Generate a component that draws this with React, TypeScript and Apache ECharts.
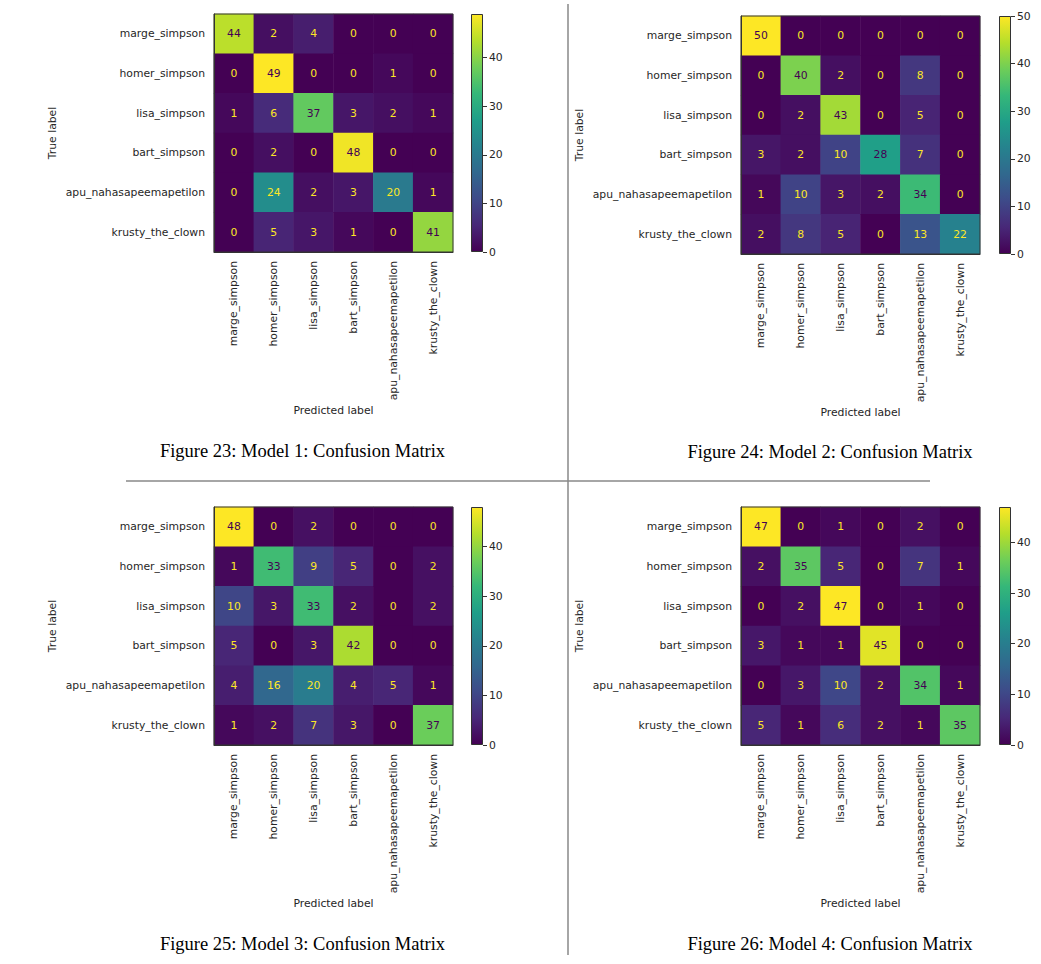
import React, { useEffect, useRef } from "react";
import * as echarts from "echarts";

const classes = [
  "marge_simpson",
  "homer_simpson",
  "lisa_simpson",
  "bart_simpson",
  "apu_nahasapeemapetilon",
  "krusty_the_clown",
];

const cm1 = [
  [44, 2, 4, 0, 0, 0],
  [0, 49, 0, 0, 1, 0],
  [1, 6, 37, 3, 2, 1],
  [0, 2, 0, 48, 0, 0],
  [0, 24, 2, 3, 20, 1],
  [0, 5, 3, 1, 0, 41],
];
const cm2 = [
  [50, 0, 0, 0, 0, 0],
  [0, 40, 2, 0, 8, 0],
  [0, 2, 43, 0, 5, 0],
  [3, 2, 10, 28, 7, 0],
  [1, 10, 3, 2, 34, 0],
  [2, 8, 5, 0, 13, 22],
];
const cm3 = [
  [48, 0, 2, 0, 0, 0],
  [1, 33, 9, 5, 0, 2],
  [10, 3, 33, 2, 0, 2],
  [5, 0, 3, 42, 0, 0],
  [4, 16, 20, 4, 5, 1],
  [1, 2, 7, 3, 0, 37],
];
const cm4 = [
  [47, 0, 1, 0, 2, 0],
  [2, 35, 5, 0, 7, 1],
  [0, 2, 47, 0, 1, 0],
  [3, 1, 1, 45, 0, 0],
  [0, 3, 10, 2, 34, 1],
  [5, 1, 6, 2, 1, 35],
];

const cbTicks1 = [0, 10, 20, 30, 40];
const cbTicks2 = [0, 10, 20, 30, 40, 50];
const cbTicks3 = [0, 10, 20, 30, 40];
const cbTicks4 = [0, 10, 20, 30, 40];

const captions = [
  "Figure 23: Model 1: Confusion Matrix",
  "Figure 24: Model 2: Confusion Matrix",
  "Figure 25: Model 3: Confusion Matrix",
  "Figure 26: Model 4: Confusion Matrix",
];

const viridis = [
  "#440154", "#482878", "#3e4a89", "#31688e", "#26828e",
  "#1f9e89", "#35b779", "#6ece58", "#b5de2b", "#fde725",
];

const panels = [
  { cm: cm1, ticks: cbTicks1, caption: captions[0], left: 214, top: 14, cbLeft: 471, capX: 302.5, capY: 451 },
  { cm: cm2, ticks: cbTicks2, caption: captions[1], left: 741, top: 16, cbLeft: 999, capX: 830, capY: 452 },
  { cm: cm3, ticks: cbTicks3, caption: captions[2], left: 214, top: 507, cbLeft: 471, capX: 302.5, capY: 944 },
  { cm: cm4, ticks: cbTicks4, caption: captions[3], left: 741, top: 507, cbLeft: 999, capX: 830, capY: 944 },
];

const FONT = "DejaVu Sans";
const FS = 10.8;
const TXT = "#262626";
const W = 239;
const H = 238;

export default function App() {
  const ref = useRef<HTMLDivElement>(null);
  useEffect(() => {
    if (!ref.current) return;
    const chart = echarts.init(ref.current, undefined, { renderer: "svg" });
    const grid: any[] = [];
    const xAxis: any[] = [];
    const yAxis: any[] = [];
    const series: any[] = [];
    const visualMap: any[] = [];
    const graphic: any[] = [];

    panels.forEach((p, i) => {
      const maxVal = Math.max(...p.cm.map((r) => Math.max(...r)));
      const g = i * 2;
      grid.push({
        left: p.left, top: p.top, width: W, height: H,
        show: true, borderColor: "#333", borderWidth: 1,
        backgroundColor: "transparent", z: 10,
      });
      grid.push({ left: p.cbLeft, top: p.top, width: 12, height: H });

      xAxis.push({
        type: "category", gridIndex: g, data: classes, position: "bottom", z: 10,
        axisLabel: { rotate: 90, fontSize: FS, fontFamily: FONT, color: TXT, margin: 9, interval: 0 },
        axisTick: { alignWithLabel: true, length: 5, lineStyle: { color: "#333" } },
        axisLine: { lineStyle: { color: "#333" } },
        splitLine: { show: false },
        name: "Predicted label", nameLocation: "middle", nameGap: 153,
        nameTextStyle: { fontSize: FS, fontFamily: FONT, color: TXT },
      });
      yAxis.push({
        type: "category", gridIndex: g, data: classes, inverse: true, z: 10,
        axisLabel: { fontSize: FS, fontFamily: FONT, color: TXT, margin: 9, interval: 0 },
        axisTick: { alignWithLabel: true, length: 5, lineStyle: { color: "#333" } },
        axisLine: { lineStyle: { color: "#333" } },
        splitLine: { show: false },
        name: "True label", nameLocation: "middle", nameGap: 156,
        nameTextStyle: { fontSize: FS, fontFamily: FONT, color: TXT },
      });
      xAxis.push({
        type: "category", gridIndex: g + 1, data: ["cb"],
        axisLabel: { show: false }, axisTick: { show: false }, axisLine: { show: false },
        splitLine: { show: false },
      });
      yAxis.push({
        type: "value", gridIndex: g + 1, position: "right", min: 0, max: maxVal,
        axisLabel: { fontSize: FS, fontFamily: FONT, color: TXT, margin: 6, customValues: p.ticks },
        axisTick: { show: true, length: 4, lineStyle: { color: "#333" }, customValues: p.ticks },
        axisLine: { show: false },
        splitLine: { show: false },
      });

      const data: any[] = [];
      p.cm.forEach((row, r) => {
        row.forEach((v, c) => {
          data.push({
            value: [c, r, v],
            label: { color: v < maxVal / 2 ? "#fde725" : "#440154" },
          });
        });
      });
      series.push({
        type: "heatmap", xAxisIndex: g, yAxisIndex: g, data,
        label: { show: true, fontSize: FS, fontFamily: FONT, formatter: (d: any) => String(d.value[2]) },
        emphasis: { disabled: true },
      });
      visualMap.push({
        type: "continuous", show: false, min: 0, max: maxVal, dimension: 2,
        seriesIndex: series.length - 1, inRange: { color: viridis },
      });
      series.push({
        type: "bar", xAxisIndex: g + 1, yAxisIndex: g + 1, data: [maxVal],
        barWidth: "100%",
        itemStyle: {
          color: new echarts.graphic.LinearGradient(0, 1, 0, 0,
            viridis.map((c, k) => ({ offset: k / (viridis.length - 1), color: c }))),
          borderColor: "#333", borderWidth: 1,
        },
        emphasis: { disabled: true },
        silent: true,
      });

      graphic.push({
        type: "text", x: p.capX, y: p.capY,
        style: {
          text: p.caption, fill: "#000", font: "18.5px 'Liberation Serif'",
          textAlign: "center", textVerticalAlign: "middle",
        },
      });
    });

    graphic.push({
      type: "line", shape: { x1: 126, y1: 481, x2: 930, y2: 481 },
      style: { stroke: "#888", lineWidth: 1.5 },
    });
    graphic.push({
      type: "line", shape: { x1: 568, y1: 4, x2: 568, y2: 955 },
      style: { stroke: "#888", lineWidth: 1.5 },
    });

    chart.setOption({
      animation: false,
      backgroundColor: "#fff",
      grid, xAxis, yAxis, series, visualMap, graphic,
    });
    return () => chart.dispose();
  }, []);
  return (
    <div
      ref={ref}
      style={{ position: "fixed", left: 0, top: 0, width: 1041, height: 964 }}
    />
  );
}
